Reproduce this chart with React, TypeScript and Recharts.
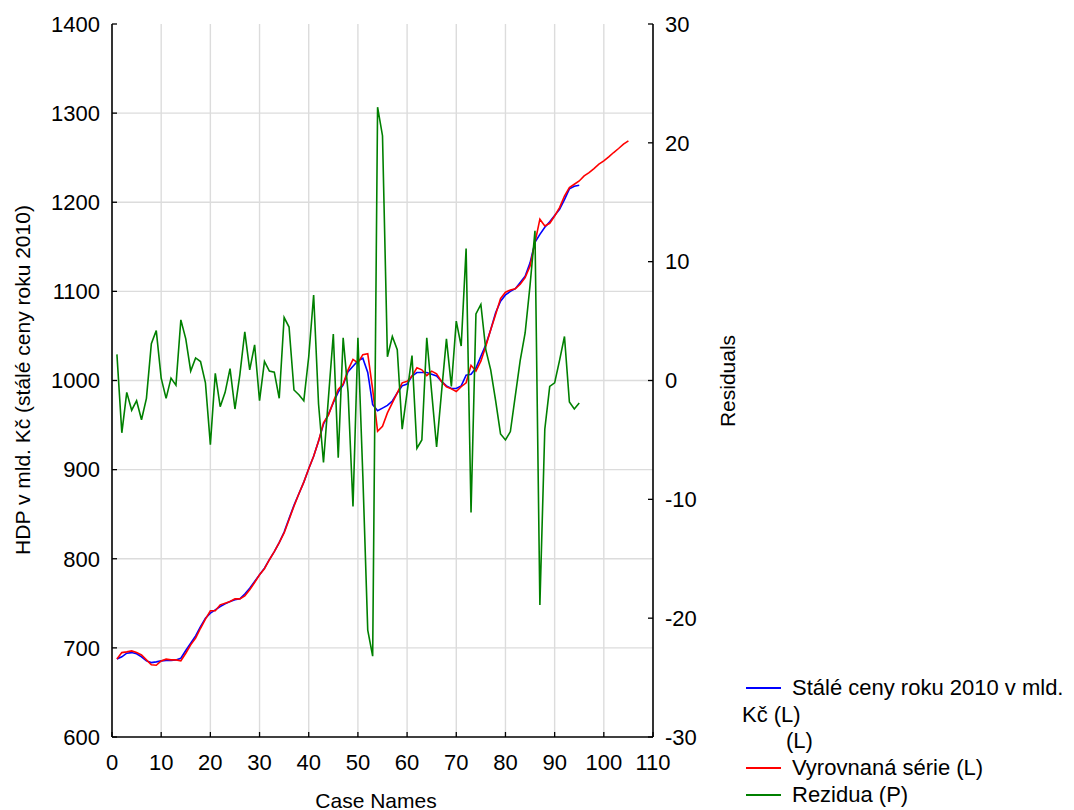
import { LineChart, Line, XAxis, YAxis, ReferenceLine, Legend, Label } from "recharts";

const FONT = '"Liberation Sans", Arial, sans-serif';

const xTicks = [0, 10, 20, 30, 40, 50, 60, 70, 80, 90, 100, 110];
const leftTicks = [600, 700, 800, 900, 1000, 1100, 1200, 1300, 1400];
const rightTicks = [-30, -20, -10, 0, 10, 20, 30];
const gridX = [10, 20, 30, 40, 50, 60, 70, 80, 90, 100];
const gridY = [700, 800, 900, 1000, 1100, 1200, 1300];

// Stálé ceny roku 2010 v mld. Kč (cases 1-95)
const actual = [
  687.6, 690, 694, 694.7, 693.3, 690, 685.4, 683.5, 684.3, 685.4,
  686, 686, 686.5, 688.4, 697, 705.2, 713.5, 723.9, 733.3, 739,
  742.7, 746.4, 749.4, 752, 754, 755, 760.3, 767, 774.5, 782,
  789.5, 799, 808, 818, 830, 845, 860, 873, 886, 901,
  915, 932, 951, 962, 975, 987, 995, 1010, 1016, 1022,
  1025, 1009, 973, 966, 969, 972, 977, 986, 994, 996,
  1005, 1009, 1009, 1009, 1007, 1005, 999, 994, 991, 991,
  994, 1006, 1007, 1014, 1027, 1040, 1057, 1076, 1089, 1096,
  1100, 1103, 1110, 1117, 1132, 1155, 1164, 1172, 1178, 1185,
  1192, 1203, 1215, 1218, 1219,
];

// Vyrovnaná série (cases 1-105)
const fitted = [
  687.6, 694.7, 695.5, 696.6, 694.7, 692, 686.5, 681, 680.5, 685.4,
  687.3, 686.5, 686.5, 685.4, 694, 703.4, 710.9, 722, 732.2, 741.6,
  741.6, 748.3, 750.2, 752, 755, 755, 758.4, 765.2, 773.4, 782,
  788.8, 798.9, 808, 818, 829, 844, 859, 873, 886, 901,
  915, 932, 952.5, 961, 976, 990, 996, 1012, 1023.6, 1019.8,
  1029, 1030, 990, 943, 948.7, 963.7, 975, 986, 997.4, 999,
  1005, 1014.3, 1012, 1005.6, 1010.5, 1007.5, 999, 993, 990.6, 987.6,
  993, 997.4, 1017, 1010.5, 1021.7, 1038.5, 1057, 1074, 1092, 1099,
  1101.5, 1103, 1108, 1115.4, 1128.4, 1154.7, 1181, 1173.4, 1176.4, 1184.6,
  1194, 1207, 1216.5, 1220.2, 1223.9, 1229.6, 1233.3, 1237.8, 1242.7, 1246.4,
  1250.9, 1255.8, 1260.3, 1265.2, 1268.9,
];

// Rezidua (cases 1-95)
const residuals = [
  2.2, -4.4, -1.0, -2.5, -1.7, -3.3, -1.5, 3.1, 4.2, 0.2,
  -1.5, 0.2, -0.4, 5.1, 3.5, 0.8, 1.9, 1.6, -0.2, -5.4,
  0.6, -2.2, -1.0, 1.0, -2.4, 0.5, 4.1, 0.9, 3.0, -1.7,
  1.6, 0.8, 0.7, -1.5, 5.3, 4.5, -0.8, -1.2, -1.7, 2.0,
  7.2, -2.0, -6.9, -1.5, 3.9, -6.5, 3.6, -1.0, -10.6, 3.6,
  -8.0, -21.0, -23.2, 23.0, 20.6, 2.0, 3.7, 2.6, -4.1, -1.0,
  2.1, -5.7, -5.0, 3.6, -1.0, -5.6, -1.0, 3.5, -0.5, 5.0,
  2.9, 11.1, -11.1, 5.6, 6.4, 2.6, 0.9, -1.7, -4.5, -5.0,
  -4.3, -1.3, 1.7, 4.0, 8.0, 12.6, -18.9, -4.1, -0.5, -0.2,
  1.7, 3.7, -1.8, -2.4, -1.9,
];

const data = fitted.map((f, i) => ({
  case: i + 1,
  actual: actual[i],
  fitted: f,
  residual: residuals[i],
}));

const tickStyle = { fill: "#000", fontSize: 22, fontFamily: FONT };

function LegendBox() {
  const row = { height: 26.7, lineHeight: "26.7px", whiteSpace: "nowrap" as const, display: "flex", alignItems: "center" };
  const swatch = (color: string) => (
    <span style={{ display: "inline-block", width: 35, height: 2, background: color, marginLeft: 4, marginRight: 11 }} />
  );
  return (
    <div style={{ fontFamily: FONT, fontSize: 22, color: "#000" }}>
      <div style={row}>{swatch("#0000ff")}Stálé ceny roku 2010 v mld.</div>
      <div style={row}>Kč (L)</div>
      <div style={{ ...row, paddingLeft: 44 }}>(L)</div>
      <div style={row}>{swatch("#ff0000")}Vyrovnaná série (L)</div>
      <div style={row}>{swatch("#008000")}Rezidua (P)</div>
    </div>
  );
}

export default function App() {
  return (
    <div style={{ position: "absolute", left: 0, top: 0, background: "#fff" }}>
      <LineChart width={1074} height={810} data={data} margin={{ top: 24, right: 361, bottom: 33, left: 52 }}>
        <XAxis
          dataKey="case"
          type="number"
          domain={[0, 110]}
          ticks={xTicks}
          height={40}
          tick={tickStyle}
          tickSize={-5}
          tickMargin={22}
          axisLine={{ stroke: "#000", strokeWidth: 1.6 }}
          tickLine={{ stroke: "#000", strokeWidth: 1.3 }}
        >
          <Label
            content={() => (
              <text x={376} y={800} textAnchor="middle" dominantBaseline="central" fontSize={21} fontFamily={FONT} fill="#000">
                Case Names
              </text>
            )}
          />
        </XAxis>
        <YAxis
          yAxisId="left"
          orientation="left"
          domain={[600, 1400]}
          ticks={leftTicks}
          width={60}
          tick={tickStyle}
          tickSize={-5}
          tickMargin={17}
          axisLine={{ stroke: "#000", strokeWidth: 1.6 }}
          tickLine={{ stroke: "#000", strokeWidth: 1.3 }}
        >
          <Label
            content={() => (
              <text x={22} y={380} transform="rotate(-90 22 380)" textAnchor="middle" dominantBaseline="central" fontSize={21} fontFamily={FONT} fill="#000">
                HDP v mld. Kč (stálé ceny roku 2010)
              </text>
            )}
          />
        </YAxis>
        <YAxis
          yAxisId="right"
          orientation="right"
          domain={[-30, 30]}
          ticks={rightTicks}
          width={60}
          tick={tickStyle}
          tickSize={-5}
          tickMargin={17}
          axisLine={{ stroke: "#000", strokeWidth: 1.6 }}
          tickLine={{ stroke: "#000", strokeWidth: 1.3 }}
        >
          <Label
            content={() => (
              <text x={727} y={381} transform="rotate(-90 727 381)" textAnchor="middle" dominantBaseline="central" fontSize={21} fontFamily={FONT} fill="#000">
                Residuals
              </text>
            )}
          />
        </YAxis>
        {gridX.map((v) => (
          <ReferenceLine key={"gx" + v} x={v} yAxisId="left" stroke="#dcdcdc" strokeWidth={1.4} />
        ))}
        {gridY.map((v) => (
          <ReferenceLine key={"gy" + v} y={v} yAxisId="left" stroke="#dcdcdc" strokeWidth={1.4} />
        ))}
        <Legend
          layout="vertical"
          align="center"
          verticalAlign="middle"
          wrapperStyle={{ left: 742, top: 675, width: 332 }}
          content={() => <LegendBox />}
        />
        <Line
          yAxisId="left"
          dataKey="actual"
          name="Stálé ceny roku 2010 v mld. Kč (L)"
          stroke="#0000ff"
          strokeWidth={1.6}
          dot={false}
          isAnimationActive={false}
        />
        <Line
          yAxisId="left"
          dataKey="fitted"
          name="Vyrovnaná série (L)"
          stroke="#ff0000"
          strokeWidth={1.6}
          dot={false}
          isAnimationActive={false}
        />
        <Line
          yAxisId="right"
          dataKey="residual"
          name="Rezidua (P)"
          stroke="#008000"
          strokeWidth={1.6}
          dot={false}
          isAnimationActive={false}
        />
      </LineChart>
    </div>
  );
}
